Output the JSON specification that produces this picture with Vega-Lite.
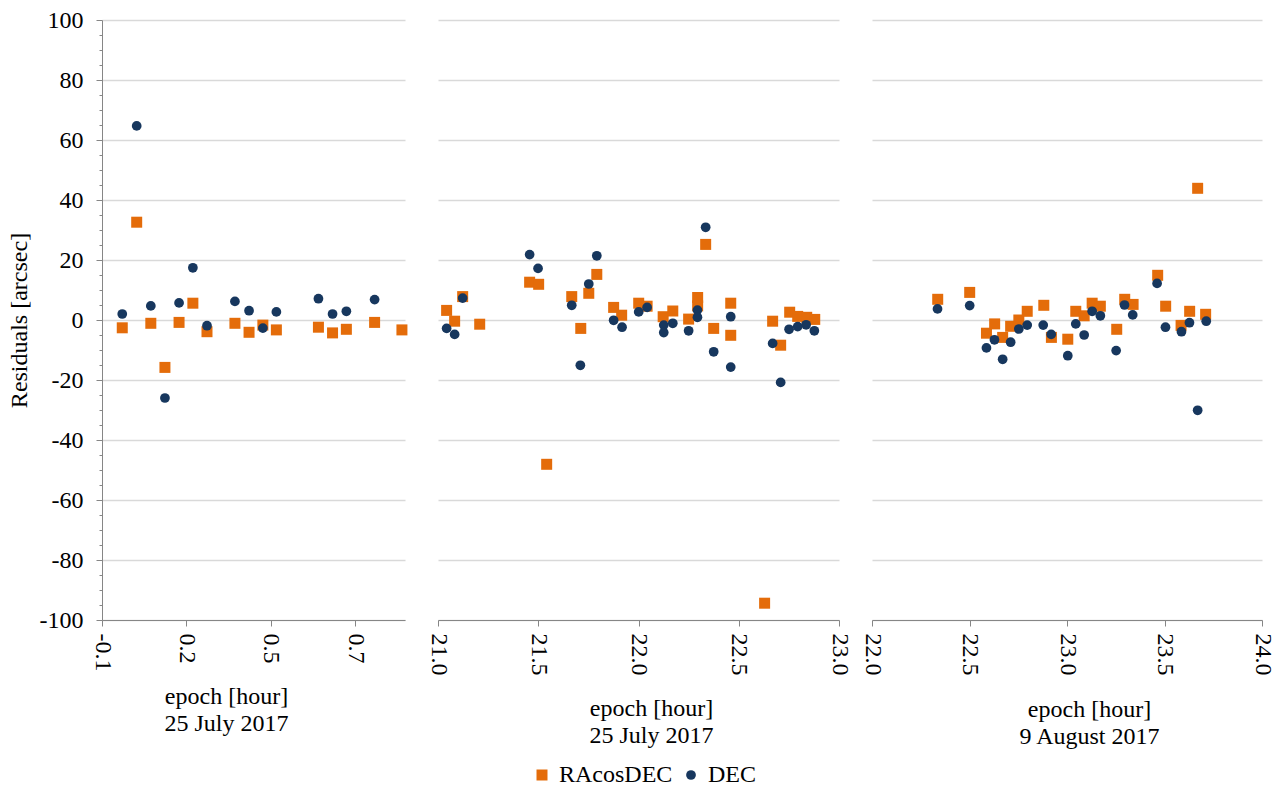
{
  "$schema": "https://vega.github.io/schema/vega-lite/v6.json",
  "background": "white",
  "padding": {"left": 7, "top": 8, "right": 5, "bottom": 5},
  "spacing": 33,
  "bounds": "flush",
  "resolve": {"scale": {"x": "independent", "y": "independent"}},
  "config": {
    "font": "Liberation Serif",
    "text": {"font": "Liberation Serif"},
    "view": {"stroke": null},
    "axis": {
      "labelFont": "Liberation Serif", "labelFontSize": 24, "labelColor": "#000000",
      "titleFont": "Liberation Serif", "titleFontSize": 24, "titleFontWeight": "normal", "titleColor": "#000000",
      "domainColor": "#868686", "tickColor": "#868686", "gridColor": "#D9D9D9", "gridWidth": 1.3
    },
    "legend": {"labelFont": "Liberation Serif", "labelFontSize": 24, "labelColor": "#000000"}
  },
  "datasets": {
    "pts": [
      {"panel": 1, "series": "RAcosDEC", "epoch": -0.034, "residual": -2.6},
      {"panel": 1, "series": "RAcosDEC", "epoch": 0.013, "residual": 32.6},
      {"panel": 1, "series": "RAcosDEC", "epoch": 0.059, "residual": -1.1},
      {"panel": 1, "series": "RAcosDEC", "epoch": 0.105, "residual": -15.8},
      {"panel": 1, "series": "RAcosDEC", "epoch": 0.151, "residual": -0.8},
      {"panel": 1, "series": "RAcosDEC", "epoch": 0.196, "residual": 5.6},
      {"panel": 1, "series": "RAcosDEC", "epoch": 0.242, "residual": -3.9},
      {"panel": 1, "series": "RAcosDEC", "epoch": 0.333, "residual": -1.1},
      {"panel": 1, "series": "RAcosDEC", "epoch": 0.379, "residual": -4.1},
      {"panel": 1, "series": "RAcosDEC", "epoch": 0.424, "residual": -1.7},
      {"panel": 1, "series": "RAcosDEC", "epoch": 0.468, "residual": -3.3},
      {"panel": 1, "series": "RAcosDEC", "epoch": 0.605, "residual": -2.4},
      {"panel": 1, "series": "RAcosDEC", "epoch": 0.651, "residual": -4.3},
      {"panel": 1, "series": "RAcosDEC", "epoch": 0.696, "residual": -3.1},
      {"panel": 1, "series": "RAcosDEC", "epoch": 0.788, "residual": -0.8},
      {"panel": 1, "series": "RAcosDEC", "epoch": 0.877, "residual": -3.3},
      {"panel": 2, "series": "RAcosDEC", "epoch": 21.043, "residual": 3.2},
      {"panel": 2, "series": "RAcosDEC", "epoch": 21.083, "residual": -0.4},
      {"panel": 2, "series": "RAcosDEC", "epoch": 21.123, "residual": 7.8},
      {"panel": 2, "series": "RAcosDEC", "epoch": 21.208, "residual": -1.4},
      {"panel": 2, "series": "RAcosDEC", "epoch": 21.457, "residual": 12.6},
      {"panel": 2, "series": "RAcosDEC", "epoch": 21.502, "residual": 11.9},
      {"panel": 2, "series": "RAcosDEC", "epoch": 21.542, "residual": -48.1},
      {"panel": 2, "series": "RAcosDEC", "epoch": 21.667, "residual": 7.8},
      {"panel": 2, "series": "RAcosDEC", "epoch": 21.712, "residual": -2.8},
      {"panel": 2, "series": "RAcosDEC", "epoch": 21.752, "residual": 8.9},
      {"panel": 2, "series": "RAcosDEC", "epoch": 21.792, "residual": 15.2},
      {"panel": 2, "series": "RAcosDEC", "epoch": 21.876, "residual": 4.2},
      {"panel": 2, "series": "RAcosDEC", "epoch": 21.916, "residual": 1.6},
      {"panel": 2, "series": "RAcosDEC", "epoch": 22.001, "residual": 5.6},
      {"panel": 2, "series": "RAcosDEC", "epoch": 22.043, "residual": 4.6},
      {"panel": 2, "series": "RAcosDEC", "epoch": 22.123, "residual": 1.1},
      {"panel": 2, "series": "RAcosDEC", "epoch": 22.171, "residual": 3.0},
      {"panel": 2, "series": "RAcosDEC", "epoch": 22.250, "residual": 0.3},
      {"panel": 2, "series": "RAcosDEC", "epoch": 22.295, "residual": 7.5},
      {"panel": 2, "series": "RAcosDEC", "epoch": 22.295, "residual": 4.7},
      {"panel": 2, "series": "RAcosDEC", "epoch": 22.335, "residual": 25.2},
      {"panel": 2, "series": "RAcosDEC", "epoch": 22.375, "residual": -2.8},
      {"panel": 2, "series": "RAcosDEC", "epoch": 22.460, "residual": 5.6},
      {"panel": 2, "series": "RAcosDEC", "epoch": 22.460, "residual": -5.1},
      {"panel": 2, "series": "RAcosDEC", "epoch": 22.629, "residual": -94.4},
      {"panel": 2, "series": "RAcosDEC", "epoch": 22.669, "residual": -0.4},
      {"panel": 2, "series": "RAcosDEC", "epoch": 22.709, "residual": -8.4},
      {"panel": 2, "series": "RAcosDEC", "epoch": 22.754, "residual": 2.6},
      {"panel": 2, "series": "RAcosDEC", "epoch": 22.794, "residual": 1.2},
      {"panel": 2, "series": "RAcosDEC", "epoch": 22.839, "residual": 0.9},
      {"panel": 2, "series": "RAcosDEC", "epoch": 22.879, "residual": 0.2},
      {"panel": 3, "series": "RAcosDEC", "epoch": 22.337, "residual": 6.9},
      {"panel": 3, "series": "RAcosDEC", "epoch": 22.501, "residual": 9.2},
      {"panel": 3, "series": "RAcosDEC", "epoch": 22.587, "residual": -4.4},
      {"panel": 3, "series": "RAcosDEC", "epoch": 22.629, "residual": -1.3},
      {"panel": 3, "series": "RAcosDEC", "epoch": 22.670, "residual": -5.8},
      {"panel": 3, "series": "RAcosDEC", "epoch": 22.711, "residual": -2.1},
      {"panel": 3, "series": "RAcosDEC", "epoch": 22.753, "residual": 0.0},
      {"panel": 3, "series": "RAcosDEC", "epoch": 22.796, "residual": 2.9},
      {"panel": 3, "series": "RAcosDEC", "epoch": 22.881, "residual": 4.9},
      {"panel": 3, "series": "RAcosDEC", "epoch": 22.920, "residual": -5.8},
      {"panel": 3, "series": "RAcosDEC", "epoch": 23.004, "residual": -6.4},
      {"panel": 3, "series": "RAcosDEC", "epoch": 23.045, "residual": 2.9},
      {"panel": 3, "series": "RAcosDEC", "epoch": 23.088, "residual": 1.4},
      {"panel": 3, "series": "RAcosDEC", "epoch": 23.129, "residual": 5.6},
      {"panel": 3, "series": "RAcosDEC", "epoch": 23.171, "residual": 4.6},
      {"panel": 3, "series": "RAcosDEC", "epoch": 23.255, "residual": -3.1},
      {"panel": 3, "series": "RAcosDEC", "epoch": 23.296, "residual": 6.9},
      {"panel": 3, "series": "RAcosDEC", "epoch": 23.339, "residual": 5.2},
      {"panel": 3, "series": "RAcosDEC", "epoch": 23.465, "residual": 14.9},
      {"panel": 3, "series": "RAcosDEC", "epoch": 23.506, "residual": 4.6},
      {"panel": 3, "series": "RAcosDEC", "epoch": 23.585, "residual": -1.8},
      {"panel": 3, "series": "RAcosDEC", "epoch": 23.629, "residual": 2.9},
      {"panel": 3, "series": "RAcosDEC", "epoch": 23.670, "residual": 43.9},
      {"panel": 3, "series": "RAcosDEC", "epoch": 23.711, "residual": 1.9},
      {"panel": 1, "series": "DEC", "epoch": -0.034, "residual": 2.0},
      {"panel": 1, "series": "DEC", "epoch": 0.013, "residual": 64.7},
      {"panel": 1, "series": "DEC", "epoch": 0.059, "residual": 4.7},
      {"panel": 1, "series": "DEC", "epoch": 0.105, "residual": -26.0},
      {"panel": 1, "series": "DEC", "epoch": 0.151, "residual": 5.7},
      {"panel": 1, "series": "DEC", "epoch": 0.196, "residual": 17.4},
      {"panel": 1, "series": "DEC", "epoch": 0.242, "residual": -1.9},
      {"panel": 1, "series": "DEC", "epoch": 0.333, "residual": 6.2},
      {"panel": 1, "series": "DEC", "epoch": 0.379, "residual": 3.1},
      {"panel": 1, "series": "DEC", "epoch": 0.424, "residual": -2.7},
      {"panel": 1, "series": "DEC", "epoch": 0.468, "residual": 2.7},
      {"panel": 1, "series": "DEC", "epoch": 0.605, "residual": 7.1},
      {"panel": 1, "series": "DEC", "epoch": 0.651, "residual": 2.0},
      {"panel": 1, "series": "DEC", "epoch": 0.696, "residual": 2.9},
      {"panel": 1, "series": "DEC", "epoch": 0.788, "residual": 6.8},
      {"panel": 2, "series": "DEC", "epoch": 21.043, "residual": -2.8},
      {"panel": 2, "series": "DEC", "epoch": 21.083, "residual": -4.8},
      {"panel": 2, "series": "DEC", "epoch": 21.123, "residual": 7.3},
      {"panel": 2, "series": "DEC", "epoch": 21.457, "residual": 21.8},
      {"panel": 2, "series": "DEC", "epoch": 21.499, "residual": 17.2},
      {"panel": 2, "series": "DEC", "epoch": 21.667, "residual": 4.9},
      {"panel": 2, "series": "DEC", "epoch": 21.710, "residual": -15.1},
      {"panel": 2, "series": "DEC", "epoch": 21.752, "residual": 12.0},
      {"panel": 2, "series": "DEC", "epoch": 21.792, "residual": 21.4},
      {"panel": 2, "series": "DEC", "epoch": 21.876, "residual": -0.1},
      {"panel": 2, "series": "DEC", "epoch": 21.918, "residual": -2.4},
      {"panel": 2, "series": "DEC", "epoch": 22.001, "residual": 2.7},
      {"panel": 2, "series": "DEC", "epoch": 22.043, "residual": 4.2},
      {"panel": 2, "series": "DEC", "epoch": 22.126, "residual": -1.7},
      {"panel": 2, "series": "DEC", "epoch": 22.126, "residual": -4.2},
      {"panel": 2, "series": "DEC", "epoch": 22.171, "residual": -1.1},
      {"panel": 2, "series": "DEC", "epoch": 22.250, "residual": -3.6},
      {"panel": 2, "series": "DEC", "epoch": 22.294, "residual": 3.3},
      {"panel": 2, "series": "DEC", "epoch": 22.294, "residual": 0.9},
      {"panel": 2, "series": "DEC", "epoch": 22.335, "residual": 30.9},
      {"panel": 2, "series": "DEC", "epoch": 22.375, "residual": -10.6},
      {"panel": 2, "series": "DEC", "epoch": 22.460, "residual": 1.1},
      {"panel": 2, "series": "DEC", "epoch": 22.460, "residual": -15.7},
      {"panel": 2, "series": "DEC", "epoch": 22.669, "residual": -7.8},
      {"panel": 2, "series": "DEC", "epoch": 22.709, "residual": -20.8},
      {"panel": 2, "series": "DEC", "epoch": 22.751, "residual": -3.1},
      {"panel": 2, "series": "DEC", "epoch": 22.794, "residual": -2.2},
      {"panel": 2, "series": "DEC", "epoch": 22.836, "residual": -1.6},
      {"panel": 2, "series": "DEC", "epoch": 22.877, "residual": -3.6},
      {"panel": 3, "series": "DEC", "epoch": 22.336, "residual": 3.7},
      {"panel": 3, "series": "DEC", "epoch": 22.501, "residual": 4.8},
      {"panel": 3, "series": "DEC", "epoch": 22.587, "residual": -9.3},
      {"panel": 3, "series": "DEC", "epoch": 22.628, "residual": -6.6},
      {"panel": 3, "series": "DEC", "epoch": 22.670, "residual": -13.1},
      {"panel": 3, "series": "DEC", "epoch": 22.711, "residual": -7.4},
      {"panel": 3, "series": "DEC", "epoch": 22.753, "residual": -3.0},
      {"panel": 3, "series": "DEC", "epoch": 22.796, "residual": -1.7},
      {"panel": 3, "series": "DEC", "epoch": 22.878, "residual": -1.7},
      {"panel": 3, "series": "DEC", "epoch": 22.919, "residual": -4.8},
      {"panel": 3, "series": "DEC", "epoch": 23.004, "residual": -11.9},
      {"panel": 3, "series": "DEC", "epoch": 23.045, "residual": -1.3},
      {"panel": 3, "series": "DEC", "epoch": 23.088, "residual": -5.0},
      {"panel": 3, "series": "DEC", "epoch": 23.129, "residual": 2.9},
      {"panel": 3, "series": "DEC", "epoch": 23.171, "residual": 1.4},
      {"panel": 3, "series": "DEC", "epoch": 23.252, "residual": -10.2},
      {"panel": 3, "series": "DEC", "epoch": 23.295, "residual": 5.0},
      {"panel": 3, "series": "DEC", "epoch": 23.337, "residual": 1.7},
      {"panel": 3, "series": "DEC", "epoch": 23.462, "residual": 12.2},
      {"panel": 3, "series": "DEC", "epoch": 23.505, "residual": -2.4},
      {"panel": 3, "series": "DEC", "epoch": 23.587, "residual": -3.9},
      {"panel": 3, "series": "DEC", "epoch": 23.628, "residual": -0.9},
      {"panel": 3, "series": "DEC", "epoch": 23.670, "residual": -30.1},
      {"panel": 3, "series": "DEC", "epoch": 23.714, "residual": -0.4}
    ]
  },
  "hconcat": [
    {
      "width": 303, "height": 600,
      "data": {"name": "pts"},
      "transform": [{"filter": "datum.panel === 1"}],
      "mark": {"type": "point", "filled": true, "opacity": 1, "strokeWidth": 0},
      "encoding": {
        "x": {"field": "epoch", "type": "quantitative",
          "scale": {"domain": [-0.1, 0.887], "nice": false, "zero": false},
          "axis": {"values": [-0.1, 0.175, 0.45, 0.725], "labelExpr": "datum.value < 0 ? '-0.1' : format(datum.value, '.1f')",
            "labelFont": "Liberation Serif", "labelFontSize": 24, "titleFont": "Liberation Serif",
            "labelAngle": 90, "tickSize": 6, "labelPadding": 7, "grid": false,
            "title": ["epoch [hour]", "25 July 2017"], "titlePadding": 14, "titleLineHeight": 27, "titleX": 124}},
        "y": {"field": "residual", "type": "quantitative",
          "scale": {"domain": [-100, 100], "nice": false, "zero": false},
          "axis": {"values": [-100,-95,-90,-85,-80,-75,-70,-65,-60,-55,-50,-45,-40,-35,-30,-25,-20,-15,-10,-5,0,5,10,15,20,25,30,35,40,45,50,55,60,65,70,75,80,85,90,95,100],
            "labelExpr": "datum.value % 20 === 0 ? '' + datum.value : ''",
            "labelFont": "Liberation Serif", "labelFontSize": 24, "titleFont": "Liberation Serif",
            "tickSize": {"condition": {"test": "datum.value % 20 === 0", "value": 6}, "value": 3},
            "gridOpacity": {"condition": {"test": "datum.value % 20 === 0", "value": 1}, "value": 0},
            "labelPadding": 13, "grid": true,
            "title": "Residuals [arcsec]", "titleX": -83, "titleY": 300, "titleBaseline": "middle"}},
        "color": {"field": "series", "type": "nominal",
          "scale": {"domain": ["RAcosDEC", "DEC"], "range": ["#E46C0A", "#17375E"]},
          "legend": {"orient": "none", "legendX": 428, "legendY": 743, "direction": "horizontal", "title": null, "symbolSize": 121, "columnPadding": 6, "labelOffset": 5, "padding": 0, "labelFont": "Liberation Serif", "labelFontSize": 24}},
        "shape": {"field": "series", "type": "nominal",
          "scale": {"domain": ["RAcosDEC", "DEC"], "range": ["square", "circle"]},
          "legend": {"orient": "none", "legendX": 428, "legendY": 743, "direction": "horizontal", "title": null, "symbolSize": 121, "columnPadding": 6, "labelOffset": 5, "padding": 0, "labelFont": "Liberation Serif", "labelFontSize": 24}},
        "size": {"field": "series", "type": "nominal",
          "scale": {"domain": ["RAcosDEC", "DEC"], "range": [121, 95]}, "legend": null}
      }
    },
    {
      "width": 401, "height": 600,
      "data": {"name": "pts"},
      "transform": [{"filter": "datum.panel === 2"}],
      "mark": {"type": "point", "filled": true, "opacity": 1, "strokeWidth": 0},
      "encoding": {
        "x": {"field": "epoch", "type": "quantitative",
          "scale": {"domain": [21, 23], "nice": false, "zero": false},
          "axis": {"values": [21, 21.5, 22, 22.5, 23], "labelExpr": "format(datum.value, '.1f')",
            "labelFont": "Liberation Serif", "labelFontSize": 24, "titleFont": "Liberation Serif",
            "labelAngle": 90, "tickSize": 6, "labelPadding": 7, "grid": false,
            "title": ["epoch [hour]", "25 July 2017"], "titlePadding": 21, "titleLineHeight": 27, "titleX": 213}},
        "y": {"field": "residual", "type": "quantitative",
          "scale": {"domain": [-100, 100], "nice": false, "zero": false},
          "axis": {"values": [-100,-80,-60,-40,-20,0,20,40,60,80,100], "labels": false, "ticks": false, "domain": false, "grid": true, "title": null}},
        "color": {"field": "series", "type": "nominal",
          "scale": {"domain": ["RAcosDEC", "DEC"], "range": ["#E46C0A", "#17375E"]},
          "legend": {"orient": "none", "legendX": 428, "legendY": 743, "direction": "horizontal", "title": null, "symbolSize": 121, "columnPadding": 6, "labelOffset": 5, "padding": 0, "labelFont": "Liberation Serif", "labelFontSize": 24}},
        "shape": {"field": "series", "type": "nominal",
          "scale": {"domain": ["RAcosDEC", "DEC"], "range": ["square", "circle"]},
          "legend": {"orient": "none", "legendX": 428, "legendY": 743, "direction": "horizontal", "title": null, "symbolSize": 121, "columnPadding": 6, "labelOffset": 5, "padding": 0, "labelFont": "Liberation Serif", "labelFontSize": 24}},
        "size": {"field": "series", "type": "nominal",
          "scale": {"domain": ["RAcosDEC", "DEC"], "range": [121, 95]}, "legend": null}
      }
    },
    {
      "width": 390, "height": 600,
      "data": {"name": "pts"},
      "transform": [{"filter": "datum.panel === 3"}],
      "mark": {"type": "point", "filled": true, "opacity": 1, "strokeWidth": 0},
      "encoding": {
        "x": {"field": "epoch", "type": "quantitative",
          "scale": {"domain": [22, 24], "nice": false, "zero": false},
          "axis": {"values": [22, 22.5, 23, 23.5, 24], "labelExpr": "format(datum.value, '.1f')",
            "labelFont": "Liberation Serif", "labelFontSize": 24, "titleFont": "Liberation Serif",
            "labelAngle": 90, "tickSize": 6, "labelPadding": 7, "grid": false,
            "title": ["epoch [hour]", "9 August 2017"], "titlePadding": 22, "titleLineHeight": 27, "titleX": 217}},
        "y": {"field": "residual", "type": "quantitative",
          "scale": {"domain": [-100, 100], "nice": false, "zero": false},
          "axis": {"values": [-100,-80,-60,-40,-20,0,20,40,60,80,100], "labels": false, "ticks": false, "domain": false, "grid": true, "title": null}},
        "color": {"field": "series", "type": "nominal",
          "scale": {"domain": ["RAcosDEC", "DEC"], "range": ["#E46C0A", "#17375E"]},
          "legend": {"orient": "none", "legendX": 428, "legendY": 743, "direction": "horizontal", "title": null, "symbolSize": 121, "columnPadding": 6, "labelOffset": 5, "padding": 0, "labelFont": "Liberation Serif", "labelFontSize": 24}},
        "shape": {"field": "series", "type": "nominal",
          "scale": {"domain": ["RAcosDEC", "DEC"], "range": ["square", "circle"]},
          "legend": {"orient": "none", "legendX": 428, "legendY": 743, "direction": "horizontal", "title": null, "symbolSize": 121, "columnPadding": 6, "labelOffset": 5, "padding": 0, "labelFont": "Liberation Serif", "labelFontSize": 24}},
        "size": {"field": "series", "type": "nominal",
          "scale": {"domain": ["RAcosDEC", "DEC"], "range": [121, 95]}, "legend": null}
      }
    }
  ]
}
